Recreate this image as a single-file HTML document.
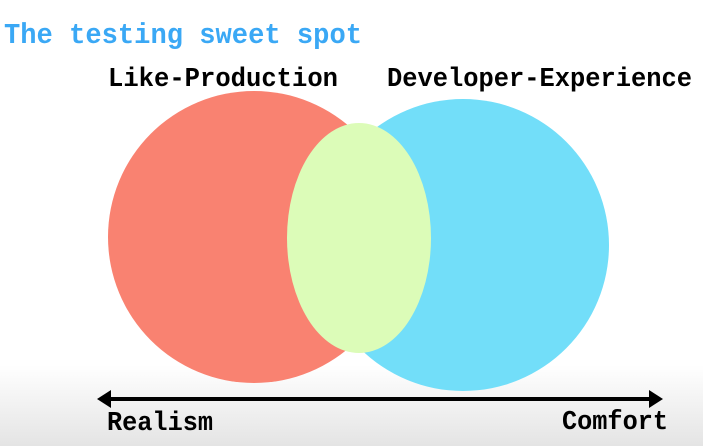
<!DOCTYPE html>
<html><head><style>
html,body{margin:0;padding:0}
body{width:703px;height:446px;overflow:hidden;background:linear-gradient(#fff 0,#fff 365px,#e4e4e4 446px);position:relative}
svg{position:absolute;left:0;top:0}
</style></head><body>
<svg width="703" height="446" viewBox="0 0 703 446">
<text x="4" y="43" font-family="Liberation Mono, monospace" font-weight="bold" font-size="29" fill="#3aa8f5" textLength="358" lengthAdjust="spacingAndGlyphs">The testing sweet spot</text>
<text x="108" y="86" font-family="Liberation Mono, monospace" font-weight="bold" font-size="27" fill="#000" textLength="230" lengthAdjust="spacingAndGlyphs">Like-Production</text>
<text x="387" y="86" font-family="Liberation Mono, monospace" font-weight="bold" font-size="27" fill="#000" textLength="305" lengthAdjust="spacingAndGlyphs">Developer-Experience</text>
<circle cx="463" cy="245" r="146" fill="#72def9"/>
<circle cx="254" cy="237" r="146" fill="#f98271"/>
<ellipse cx="359" cy="238" rx="72" ry="115" fill="#dcfcb8"/>
<line x1="108" y1="399" x2="652" y2="399" stroke="#000" stroke-width="4"/>
<polygon points="97,399 111,390 111,408" fill="#000"/>
<polygon points="663,399 649,390 649,408" fill="#000"/>
<text x="107" y="430" font-family="Liberation Mono, monospace" font-weight="bold" font-size="27" fill="#000" textLength="106" lengthAdjust="spacingAndGlyphs">Realism</text>
<text x="562" y="429" font-family="Liberation Mono, monospace" font-weight="bold" font-size="27" fill="#000" textLength="106" lengthAdjust="spacingAndGlyphs">Comfort</text>
</svg>
</body></html>
